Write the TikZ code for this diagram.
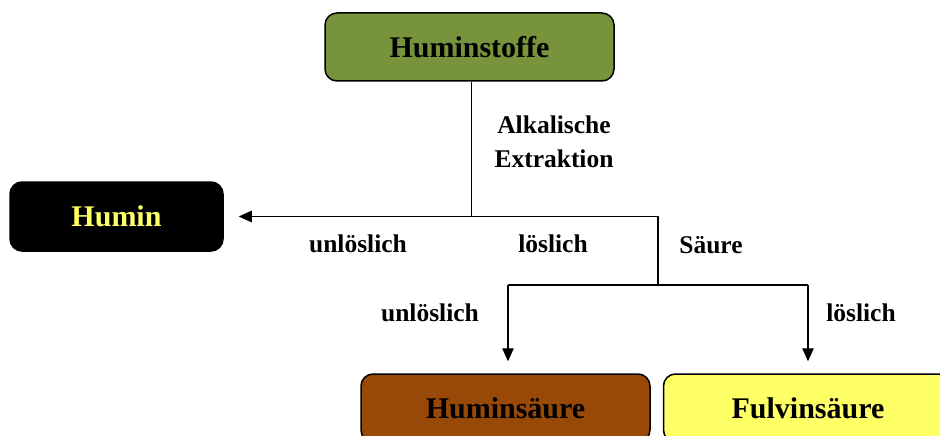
\documentclass[tikz,border=0pt]{standalone}
\usepackage{fontspec}
\setmainfont{Liberation Serif}
\usetikzlibrary{arrows.meta}
\definecolor{hsgreen}{HTML}{77933C}
\definecolor{hsbrown}{HTML}{984807}
\definecolor{hsyellow}{HTML}{FFFF66}
\tikzset{
  box/.style={draw=black, line width=1.5pt, rounded corners=12pt, inner sep=0pt,
    font=\fontsize{30}{36}\selectfont\bfseries},
  lbl/.style={anchor=base, inner sep=0pt, font=\fontsize{25.5}{33}\selectfont\bfseries},
  conn/.style={draw=black, line width=1.3pt},
  arr/.style={conn, -{Triangle[length=13pt,width=11.5pt]}}
}
\begin{document}
\begin{tikzpicture}[x=1pt,y=-1pt]
\useasboundingbox (0,0) rectangle (940,436);
\clip (0,0) rectangle (940,436);
% boxes
\node[box, fill=hsgreen, minimum width=289pt, minimum height=68pt] (hs) at (469.5,47) {Huminstoffe};
\node[box, fill=black, text=hsyellow, minimum width=213pt, minimum height=69pt] (hm) at (116.5,216.5) {Humin};
\node[box, fill=hsbrown, minimum width=289pt, minimum height=68pt] (hsa) at (505.5,408) {Huminsäure};
\node[box, fill=hsyellow, minimum width=289pt, minimum height=68pt] (fs) at (808,408) {Fulvinsäure};
% junctions
\coordinate (j1) at (471.5,216.5);
\coordinate (j2) at (658,285);
\coordinate (a1) at (508,285);
\coordinate (a2) at (808,285);
% connectors
\draw[conn] (j1 |- hs.south) -- (j1);
\draw[arr, shorten >=15pt] (j1) -- (hm.east);
\draw[conn] (j1) -| (j2);
\draw[conn] (a1) -- (a2);
\draw[arr, shorten >=12pt] (a1) -- (a1 |- hsa.north);
\draw[arr, shorten >=12pt] (a2) -- (a2 |- fs.north);
% labels
\node[lbl] (l1) at (554,133) {Alkalische};
\node[lbl] (l2) at (554,167) {Extraktion};
\node[lbl] (l3) at (358,252) {unlöslich};
\node[lbl] (l4) at (553,252.5) {löslich};
\node[lbl] (l5) at (711,253) {Säure};
\node[lbl] (l6) at (430,321) {unlöslich};
\node[lbl] (l7) at (861,321) {löslich};
\end{tikzpicture}
\end{document}
